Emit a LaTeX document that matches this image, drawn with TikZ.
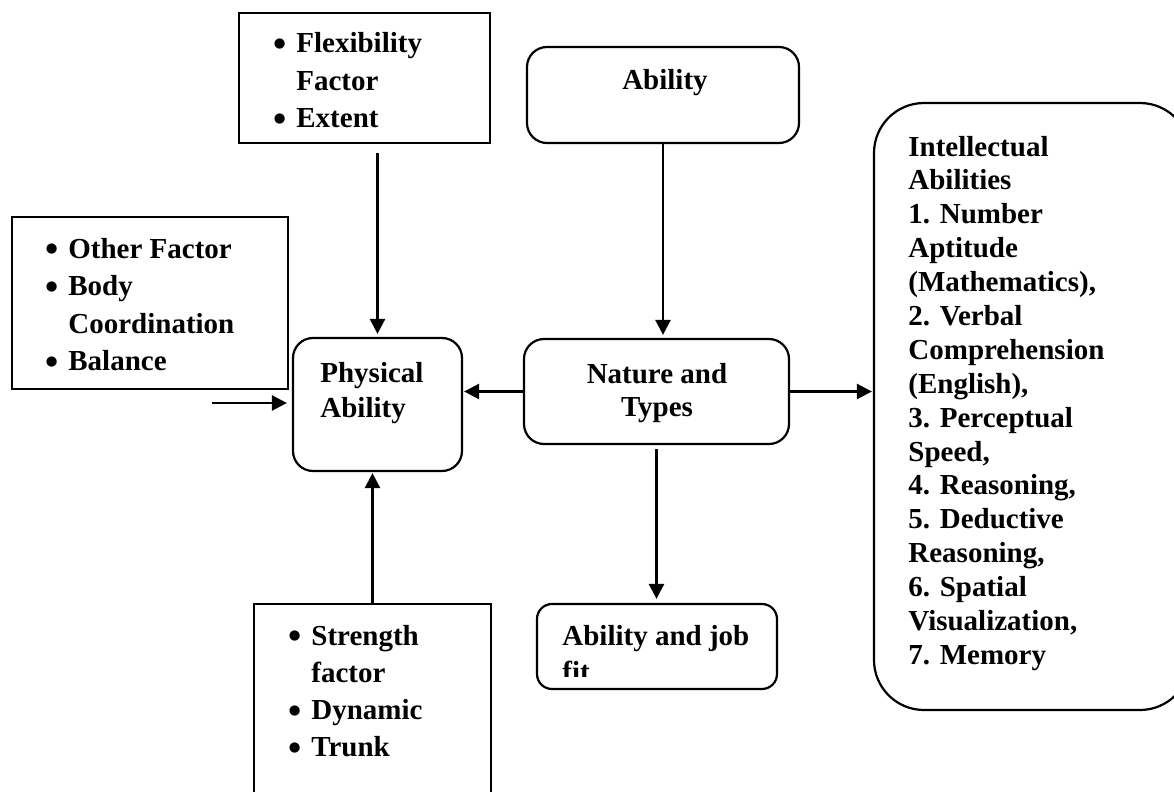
\documentclass[tikz,border=0pt]{standalone}
\usepackage{fontspec}
\setmainfont{Liberation Serif}
\usetikzlibrary{arrows.meta}

\newcommand{\bul}{\makebox[11.5pt][l]{\raisebox{-1.9pt}{\scalebox{1.3}{\textbullet}}}}
\newcommand{\ind}{\hspace*{11.5pt}}
\newcommand{\txtsize}[1]{\bfseries\fontsize{14.5pt}{#1}\selectfont}

\tikzset{
  sqbox/.style={draw, line width=1.1pt, inner sep=0pt},
  rbox/.style={draw, line width=1.1pt, inner sep=0pt, rounded corners=10pt},
  lbl/.style={inner sep=0pt, anchor=base west},
  arr/.style={line width=1.25pt, -{Triangle[length=7.5pt,width=7.5pt]}}
}

\begin{document}
\begin{tikzpicture}[x=0.5pt,y=-0.5pt]
  \useasboundingbox (0,0) rectangle (1174,792);
  \clip (0,0) rectangle (1174,792);

  % boxes
  \node[sqbox, minimum width=125.5pt, minimum height=65pt] (flex) at (364.5,78) {};
  \node[sqbox, minimum width=138pt, minimum height=86pt] (other) at (150,303) {};
  \node[sqbox, minimum width=118.5pt, minimum height=108pt] (stren) at (372.5,712) {};
  \node[rbox, minimum width=84.5pt, minimum height=66.5pt] (phys) at (377.5,404.5) {};
  \node[rbox, minimum width=136pt, minimum height=48pt] (abil) at (663,95) {};
  \node[rbox, minimum width=132.5pt, minimum height=52.5pt] (nat) at (656.5,391.5) {};
  \node[rbox, rounded corners=7.5pt, minimum width=120pt, minimum height=42.5pt] (job) at (657,646.5) {};
  \node[rbox, rounded corners=25pt, minimum width=158pt, minimum height=303.5pt] (intel) at (1032,406.5) {};

  % texts
  \node[lbl, font=\txtsize{18.75pt}] (flextext) at (273,53)
    {\begin{tabular}[t]{@{}l@{}}\bul Flexibility\\ \ind Factor\\ \bul Extent\end{tabular}};
  \node[lbl, font=\txtsize{18.8pt}] (othertext) at (45,258)
    {\begin{tabular}[t]{@{}l@{}}\bul Other Factor\\ \bul Body\\ \ind Coordination\\ \bul Balance\end{tabular}};
  \node[lbl, font=\txtsize{18.65pt}] (strentext) at (288,645)
    {\begin{tabular}[t]{@{}l@{}}\bul Strength\\ \ind factor\\ \bul Dynamic\\ \bul Trunk\end{tabular}};
  \node[lbl, font=\txtsize{17.5pt}] (phystext) at (320,382)
    {\begin{tabular}[t]{@{}l@{}}Physical\\ Ability\end{tabular}};
  \node[lbl, anchor=base, font=\txtsize{17pt}] (abiltext) at (665,90) {Ability};
  \node[lbl, anchor=base, font=\txtsize{17pt}] (nattext) at (657,383)
    {\begin{tabular}[t]{@{}c@{}}Nature and\\ Types\end{tabular}};
  \node[lbl, font=\txtsize{17pt}] (jobtext) at (562,645) {Ability and job};
  \begin{scope}
    \clip (537,604) rectangle (777,676);
    \node[lbl, font=\txtsize{17pt}] (fittext) at (562,681) {fit};
  \end{scope}
  \node[lbl, font=\txtsize{16.95pt}] (inteltext) at (908,156)
    {\begin{tabular}[t]{@{}l@{}}Intellectual\\ Abilities\\ 1. Number\\ Aptitude\\ (Mathematics),\\
     2. Verbal\\ Comprehension\\ (English),\\ 3. Perceptual\\ Speed,\\ 4. Reasoning,\\
     5. Deductive\\ Reasoning,\\ 6. Spatial\\ Visualization,\\ 7. Memory\end{tabular}};

  % arrows
  \draw[arr][shorten <=4.5pt, shorten >=1.5pt] (flex.south -| phys.north) -- (phys.north);
  \draw[arr][shorten >=1.5pt] (abil.south) -- (abil.south |- nat.north);
  \draw[arr][shorten >=0.5pt] (nat.west) -- (nat.west -| phys.east);
  \draw[arr][shorten >=0.5pt] (nat.east) -- (nat.east -| intel.west);
  \draw[arr][shorten <=2pt, shorten >=2pt] (nat.south) -- (nat.south |- job.north);
  \draw[arr][shorten >=0.5pt] (stren.north) -- (stren.north |- phys.south);
  \coordinate (freein) at (212,403);
  \draw[arr][shorten >=2.5pt] (freein) -- (freein -| phys.west);
\end{tikzpicture}
\end{document}
